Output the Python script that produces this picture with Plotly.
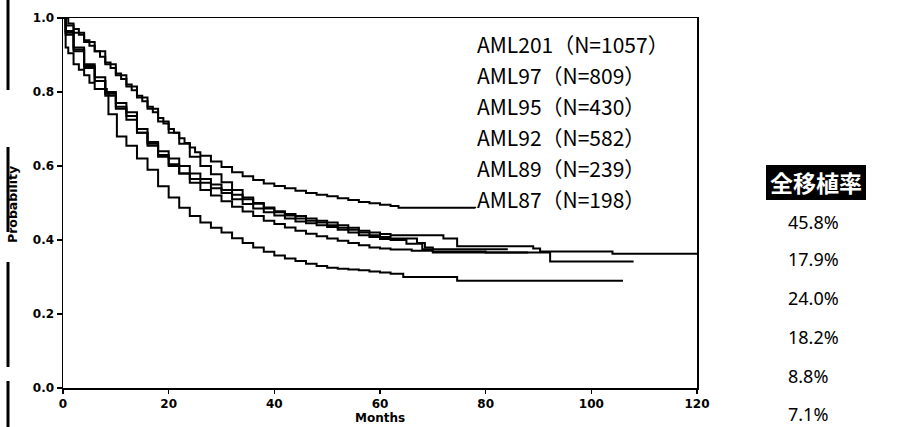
import plotly.graph_objects as go

# ---- data ----
aml201_t = [0, 1, 2, 3, 4, 5, 6, 7, 8, 9, 10, 11, 12, 13, 14, 15, 16, 17, 18, 19, 20, 21, 22, 23, 24, 25, 26,
            28, 30, 32, 34, 36, 38, 40, 42, 44, 46, 48, 50, 52, 54, 56, 58, 60, 62, 63.5, 78]
aml201_s = [1.0, 0.985, 0.97, 0.955, 0.94, 0.925, 0.91, 0.895, 0.88, 0.865, 0.85, 0.835, 0.82, 0.805, 0.79,
            0.775, 0.76, 0.745, 0.73, 0.715, 0.70, 0.69, 0.675, 0.662, 0.65, 0.637, 0.628, 0.612, 0.597,
            0.583, 0.572, 0.562, 0.553, 0.546, 0.54, 0.533, 0.527, 0.522, 0.518, 0.513, 0.508, 0.503,
            0.499, 0.495, 0.492, 0.487, 0.486]

aml89_t = [0, 0.5, 2, 4, 6, 8, 10, 12, 14, 16, 18, 20, 22, 24, 26, 28, 30, 32, 34, 36, 38, 40, 42, 44, 46,
           48, 50, 52, 54, 56, 58, 60, 62, 72, 74.6, 89, 90.3, 104, 120]
aml89_s = [1.0, 0.98, 0.96, 0.935, 0.91, 0.875, 0.845, 0.815, 0.785, 0.755, 0.72, 0.69, 0.66, 0.625, 0.60,
           0.578, 0.556, 0.535, 0.515, 0.50, 0.488, 0.478, 0.47, 0.465, 0.458, 0.452, 0.447, 0.44, 0.433,
           0.425, 0.42, 0.416, 0.413, 0.404, 0.383, 0.377, 0.369, 0.363, 0.363]

aml92_t = [0, 0.5, 2, 4, 6, 8, 10, 12, 14, 16, 18, 20, 22, 24, 26, 28, 30, 32, 34, 36, 38, 40, 42, 44, 46,
           48, 50, 52, 54, 56, 58, 60, 62, 67, 68.5, 70, 92.2, 108]
aml92_s = [1.0, 0.965, 0.92, 0.875, 0.84, 0.80, 0.77, 0.745, 0.70, 0.665, 0.64, 0.62, 0.60, 0.58, 0.565,
           0.55, 0.535, 0.522, 0.51, 0.498, 0.485, 0.475, 0.466, 0.458, 0.452, 0.447, 0.44, 0.433, 0.428,
           0.42, 0.413, 0.408, 0.404, 0.392, 0.38, 0.366, 0.342, 0.342]

aml95_t = [0, 0.5, 2, 4, 6, 8, 10, 12, 14, 16, 18, 20, 22, 24, 26, 28, 30, 32, 34, 36, 38, 40, 42, 44, 46,
           48, 50, 52, 54, 56, 58, 60, 62, 65, 68, 84]
aml95_s = [1.0, 0.96, 0.915, 0.87, 0.83, 0.795, 0.76, 0.735, 0.69, 0.655, 0.625, 0.60, 0.58, 0.565, 0.555,
           0.54, 0.527, 0.51, 0.497, 0.485, 0.475, 0.466, 0.458, 0.45, 0.445, 0.44, 0.435, 0.428, 0.42,
           0.413, 0.408, 0.403, 0.40, 0.39, 0.375, 0.372]

aml97_t = [0, 0.5, 2, 4, 6, 8, 10, 12, 14, 16, 18, 20, 22, 24, 26, 28, 30, 32, 34, 36, 38, 40, 42, 44, 46,
           48, 50, 52, 54, 56, 58, 60, 62, 66, 70, 80, 88]
aml97_s = [1.0, 0.955, 0.91, 0.865, 0.83, 0.79, 0.755, 0.725, 0.69, 0.66, 0.63, 0.605, 0.58, 0.555, 0.535,
           0.52, 0.505, 0.49, 0.477, 0.465, 0.452, 0.443, 0.434, 0.425, 0.417, 0.41, 0.404, 0.398, 0.392,
           0.386, 0.38, 0.377, 0.374, 0.371, 0.369, 0.366, 0.366]

aml87_t = [0, 0.5, 1, 2, 3, 4, 5, 6, 8.3, 8.6, 10.2, 12, 14, 16, 18, 20, 22, 24, 26, 28, 30, 32, 34, 36, 38,
           40, 42, 44, 46, 48, 50, 52, 54, 56, 58, 60, 62, 64.4, 74.6, 106]
aml87_s = [1.0, 0.92, 0.905, 0.875, 0.86, 0.845, 0.825, 0.808, 0.80, 0.74, 0.68, 0.655, 0.62, 0.59, 0.545,
           0.515, 0.487, 0.465, 0.447, 0.433, 0.42, 0.405, 0.392, 0.38, 0.368, 0.358, 0.35, 0.343, 0.336,
           0.33, 0.325, 0.322, 0.32, 0.318, 0.315, 0.312, 0.309, 0.30, 0.29, 0.29]

legend_labels = ["AML201（N=1057）", "AML97（N=809）", "AML95（N=430）",
                 "AML92（N=582）", "AML89（N=239）", "AML87（N=198）"]
table_header = "全移植率"
table_values = ["45.8%", "17.9%", "24.0%", "18.2%", "8.8%", "7.1%"]

x_ticks = [0, 20, 40, 60, 80, 100, 120]
y_ticks = [0.0, 0.2, 0.4, 0.6, 0.8, 1.0]

series = [
    ("AML201", aml201_t, aml201_s),
    ("AML89", aml89_t, aml89_s),
    ("AML92", aml92_t, aml92_s),
    ("AML95", aml95_t, aml95_s),
    ("AML97", aml97_t, aml97_s),
    ("AML87", aml87_t, aml87_s),
]

# ---- layout geometry (pixels) ----
W, H = 909, 427
L, R, T, B = 63, 697, 18, 388


def xp(px):
    return (px - L) / (R - L)


def yp(py):
    return (B - py) / (B - T)


fig = go.Figure()
for name, t, s in series:
    fig.add_trace(go.Scatter(x=t, y=s, mode="lines", name=name, showlegend=False,
                             line=dict(color="black", width=2, shape="hv")))

tickfont = dict(family="DejaVu Sans", size=12, color="black", weight="bold")
fig.update_xaxes(range=[0, 120], tickvals=x_ticks, ticks="outside", ticklen=4, tickwidth=1.5,
                 tickcolor="black", showline=True, linecolor="black", linewidth=1.5, mirror=True,
                 showgrid=False, zeroline=False, tickfont=tickfont)
fig.update_yaxes(range=[0, 1.0], tickvals=y_ticks, tickformat=".1f", ticks="outside", ticklen=5,
                 tickwidth=1.5, tickcolor="black", showline=True, linecolor="black", linewidth=1.5,
                 mirror=True, showgrid=False, zeroline=False, tickfont=tickfont)

ann = []
ann.append(dict(text="Months", xref="paper", yref="paper", x=xp(380), y=yp(418), showarrow=False,
                xanchor="center", yanchor="middle",
                font=dict(family="DejaVu Sans", size=12, color="black", weight="bold")))
ann.append(dict(text="Probability", xref="paper", yref="paper", x=xp(13), y=yp(205), showarrow=False,
                textangle=-90, xanchor="center", yanchor="middle",
                font=dict(family="DejaVu Sans", size=12.5, color="black", weight="bold")))

leg_y = [44, 75, 106, 137, 168, 199]
for lab, py in zip(legend_labels, leg_y):
    ann.append(dict(text=lab, xref="paper", yref="paper", x=xp(475), y=yp(py), showarrow=False,
                    xanchor="left", yanchor="middle",
                    font=dict(family="Noto Sans CJK JP", size=21, color="black")))

ann.append(dict(text=table_header, xref="paper", yref="paper", x=xp(816), y=yp(182), showarrow=False,
                xanchor="center", yanchor="middle",
                font=dict(family="Noto Sans CJK JP", size=23, color="white", weight="bold")))
val_y = [222, 259, 298, 337, 376, 414]
for v, py in zip(table_values, val_y):
    ann.append(dict(text=v, xref="paper", yref="paper", x=xp(786), y=yp(py), showarrow=False,
                    xanchor="left", yanchor="middle",
                    font=dict(family="Noto Sans", size=18, color="black")))

shapes = []
shapes.append(dict(type="rect", xref="paper", yref="paper", x0=xp(766), x1=xp(866), y0=yp(200), y1=yp(165),
                   fillcolor="black", line=dict(width=0), layer="below"))
for y0, y1 in [(0, 90), (147, 232), (262, 367), (381, 427)]:
    shapes.append(dict(type="line", xref="paper", yref="paper", x0=xp(8), x1=xp(8), y0=yp(y0), y1=yp(y1),
                       line=dict(color="black", width=3)))

fig.update_layout(width=W, height=H, margin=dict(l=L, r=W - R, t=T, b=H - B, pad=0),
                  paper_bgcolor="white", plot_bgcolor="white", annotations=ann, shapes=shapes)

fig.write_html("out.html", config={"displayModeBar": False, "staticPlot": True},
               post_script="document.body.style.margin='0px';document.body.style.overflow='hidden';")
